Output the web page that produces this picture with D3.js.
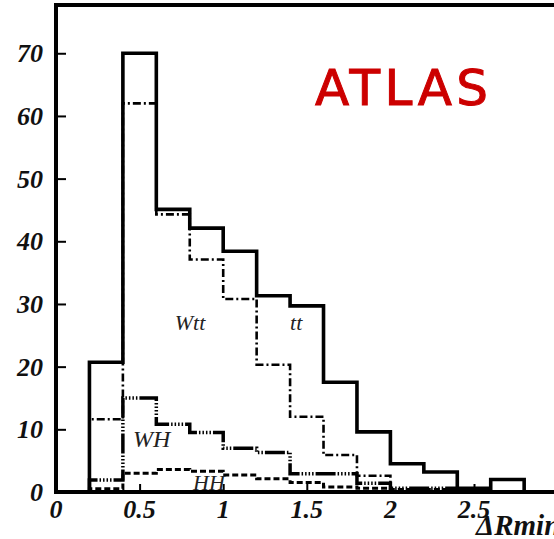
<!DOCTYPE html>
<html>
<head>
<meta charset="utf-8">
<script src="https://cdn.jsdelivr.net/npm/d3@7"></script>
<style>
  html, body { margin: 0; padding: 0; background: #fff; }
  svg { display: block; }
</style>
</head>
<body>
<svg id="chart" width="554" height="539"></svg>
<script>
// Bin edges of the ΔRmin histograms (width 0.2)
const binEdges = [0.2, 0.4, 0.6, 0.8, 1.0, 1.2, 1.4, 1.6, 1.8, 2.0, 2.2, 2.4, 2.6, 2.8, 3.0];

// Bin contents per sample
const ttCounts  = [20.7, 70.0, 45.1, 42.1, 38.4, 31.3, 29.7, 17.5, 9.6, 4.5, 3.2, 0.6, 2.0, 0];
const wttCounts = [11.6, 62.0, 44.3, 37.1, 30.8, 20.3, 12.0, 5.9, 2.6, 0, 0, 0, 0, 0];
const whCounts  = [1.9, 15.0, 10.8, 9.5, 7.0, 6.3, 2.9, 2.9, 1.4, 0.6, 0.6, 0, 0, 0];
const hhCounts  = [0.5, 3.0, 3.6, 3.3, 2.7, 2.1, 1.5, 0.8, 0.6, 0.4, 0.4, 0, 0, 0];

// Axis ticks
const yTicks = [0, 10, 20, 30, 40, 50, 60, 70];
const xTicks = [0, 0.5, 1, 1.5, 2, 2.5];
const xTickLabels = ["0", "0.5", "1", "1.5", "2", "2.5"];

const svg = d3.select("#chart");

const x = d3.scaleLinear().domain([0, 3]).range([56, 557.6]);
const y = d3.scaleLinear().domain([0, 77.7]).range([492, 5]);

const serif = "'Liberation Serif', 'Times New Roman', serif";

// Step outline of a histogram
function stepPoints(counts) {
  const pts = [{ x: binEdges[0], y: 0 }];
  counts.forEach((v, i) => {
    pts.push({ x: binEdges[i], y: v });
    pts.push({ x: binEdges[i + 1], y: v });
  });
  pts.push({ x: binEdges[binEdges.length - 1], y: 0 });
  return pts;
}
const line = d3.line().x(d => x(d.x)).y(d => y(d.y));

const series = [
  { counts: hhCounts,  width: 3,   dash: "6,3" },
  { counts: whCounts,  width: 3.5, dash: "20,2,1.5,2,1.5,2,1.5,2,1.5,2" },
  { counts: wttCounts, width: 2.6, dash: "8,3,2,3" },
  { counts: ttCounts,  width: 3.6, dash: null }
];

const plot = svg.append("g");
series.forEach(s => {
  plot.append("path")
    .attr("d", line(stepPoints(s.counts)))
    .attr("fill", "none")
    .attr("stroke", "#000")
    .attr("stroke-width", s.width)
    .attr("stroke-dasharray", s.dash)
    .attr("stroke-linejoin", "miter");
});

// Frame (top edge)
svg.append("line")
  .attr("x1", x(0)).attr("x2", 554)
  .attr("y1", y(77.7)).attr("y2", y(77.7))
  .attr("stroke", "#000").attr("stroke-width", 4);

// Y axis
const yAxis = d3.axisRight(y).tickValues(yTicks).tickSize(10).tickFormat("");
const gy = svg.append("g").attr("transform", `translate(${x(0)},0)`).call(yAxis);
gy.select(".domain").remove();
gy.selectAll(".tick line").attr("stroke", "#000").attr("stroke-width", 2);
svg.append("line")
  .attr("x1", x(0)).attr("x2", x(0))
  .attr("y1", y(77.7) - 2).attr("y2", y(0) + 2)
  .attr("stroke", "#000").attr("stroke-width", 4);

svg.append("g").selectAll("text")
  .data(yTicks)
  .join("text")
  .attr("x", 43)
  .attr("y", d => y(d))
  .attr("dy", "0.35em")
  .attr("text-anchor", "end")
  .attr("font-family", serif)
  .attr("font-style", "italic")
  .attr("font-weight", "bold")
  .attr("font-size", 26)
  .attr("fill", "#111")
  .text(d => d);

// X axis
const xAxis = d3.axisTop(x).tickValues(xTicks).tickSize(8).tickFormat("");
const gx = svg.append("g").attr("transform", `translate(0,${y(0)})`).call(xAxis);
gx.select(".domain").remove();
gx.selectAll(".tick line").attr("stroke", "#000").attr("stroke-width", 2);
svg.append("line")
  .attr("x1", x(0) - 2).attr("x2", 554)
  .attr("y1", y(0)).attr("y2", y(0))
  .attr("stroke", "#000").attr("stroke-width", 4);

svg.append("g").selectAll("text")
  .data(xTicks)
  .join("text")
  .attr("x", d => x(d))
  .attr("y", 518)
  .attr("text-anchor", "middle")
  .attr("font-family", serif)
  .attr("font-style", "italic")
  .attr("font-weight", "bold")
  .attr("font-size", 26)
  .attr("fill", "#111")
  .text((d, i) => xTickLabels[i]);

// Axis title
svg.append("text")
  .attr("x", 476).attr("y", 535)
  .attr("font-family", serif)
  .attr("font-style", "italic")
  .attr("font-weight", "bold")
  .attr("font-size", 29)
  .attr("fill", "#111")
  .text("ΔRmin");

// Sample labels
const sampleLabels = [
  { t: "Wtt", vx: 0.71, vy: 25.8, size: 22 },
  { t: "tt",  vx: 1.40, vy: 25.8, size: 22 },
  { t: "WH",  vx: 0.46, vy: 7.1,  size: 24 },
  { t: "HH",  vx: 0.82, vy: 0.3,  size: 22 }
];
svg.append("g").selectAll("text")
  .data(sampleLabels)
  .join("text")
  .attr("x", d => x(d.vx))
  .attr("y", d => y(d.vy))
  .attr("font-family", serif)
  .attr("font-style", "italic")
  .attr("font-size", d => d.size)
  .attr("fill", "#222")
  .text(d => d.t);

// Experiment tag
svg.append("text")
  .attr("x", 315).attr("y", 105)
  .attr("font-family", "'DejaVu Sans', sans-serif")
  .attr("font-size", 50)
  .attr("fill", "#cc0000")
  .attr("stroke", "#cc0000")
  .attr("stroke-width", 1)
  .attr("textLength", 173)
  .attr("lengthAdjust", "spacing")
  .text("ATLAS");
</script>
</body>
</html>
